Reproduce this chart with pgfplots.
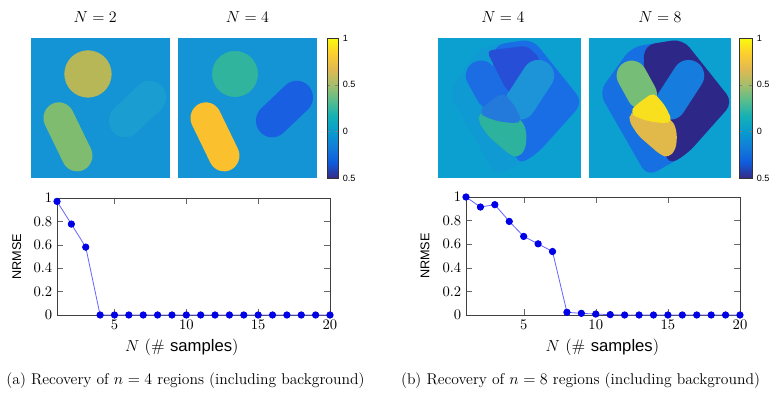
\documentclass[border=0pt]{standalone}
\usepackage{pgfplots}
\pgfplotsset{compat=1.18}
\usepackage{fontspec}
\setsansfont{Liberation Sans}
\definecolor{bgL}{RGB}{20,148,212}
\definecolor{NtwoCirc}{RGB}{183,183,88}
\definecolor{NtwoOval}{RGB}{128,188,112}
\definecolor{NtwoFaint}{RGB}{26,157,208}
\definecolor{NfourCirc}{RGB}{48,180,158}
\definecolor{NfourCaps}{RGB}{250,192,45}
\definecolor{NfourBlue}{RGB}{25,95,225}
\definecolor{bgR}{RGB}{12,160,208}
\definecolor{RfBlob}{RGB}{15,154,211}
\definecolor{RfWing}{RGB}{25,110,230}
\definecolor{RfTop}{RGB}{38,78,215}
\definecolor{RfCaps}{RGB}{28,148,215}
\definecolor{RfLeft}{RGB}{28,108,228}
\definecolor{RfCenter}{RGB}{35,122,218}
\definecolor{RfGreen}{RGB}{45,178,158}
\definecolor{ReBlob}{RGB}{22,112,225}
\definecolor{ReNavy}{RGB}{45,40,135}
\definecolor{ReCaps}{RGB}{22,125,222}
\definecolor{ReGreen}{RGB}{118,190,120}
\definecolor{ReGold}{RGB}{225,185,75}
\definecolor{ReYellow}{RGB}{248,224,30}
\definecolor{markblue}{RGB}{0,0,230}
\definecolor{lineblue}{RGB}{100,100,255}
\pgfplotsset{
  colormap={parula}{rgb255=(53,42,135) rgb255=(15,92,221) rgb255=(18,125,216) rgb255=(7,156,207) rgb255=(21,177,180) rgb255=(89,189,140) rgb255=(165,190,107) rgb255=(225,185,82) rgb255=(252,206,46) rgb255=(249,251,14)},
  img/.style={hide axis, scale only axis, anchor=south west, xmin=0, xmax=100, ymin=0, ymax=100, height=105pt,
    title style={at={(0.5,1)}, anchor=center, yshift=9.75pt, font=\fontsize{12}{14}\selectfont}},
  cbar/.style 2 args={colorbar, colormap name=parula, point meta min=-0.5, point meta max=1,
    colorbar style={at={(parent axis.north east)}, anchor=north west, xshift=#1, width=#2, height=105pt, scale only axis,
      ytick={-0.5,0,0.5,1}, yticklabels={0.5,0,0.5,1},
      yticklabel style={font=\sffamily\fontsize{6.8}{8}\selectfont},
      major tick length=2pt, axis line style={black!80}}},
  nrm/.style={scale only axis, anchor=south west, xmin=1, xmax=20, ymin=0, ymax=1,
    xtick={5,10,15,20}, ytick={0,0.2,0.4,0.6,0.8,1},
    tick label style={font=\fontsize{10.5}{12}\selectfont},
    ylabel={\sffamily NRMSE},
    ylabel style={anchor=center, font=\fontsize{9.5}{11}\selectfont},
    xlabel={$N$ (\#~\textsf{samples})},
    xlabel style={anchor=center, yshift=-24pt, font=\fontsize{12.5}{14}\selectfont},
    clip=false, axis line style={black!75}, tick style={black!60}},
  nline/.style={color=lineblue, line width=0.6pt, mark=*, mark size=2.4pt, mark options={fill=markblue, draw=markblue}},
}
\begin{document}
\begin{tikzpicture}
\useasboundingbox (0,0) rectangle (582pt,296.25pt);

% ---------- left panel, N=2 ----------
\begin{axis}[img, at={(23.25pt,162.75pt)}, width=104.25pt, title={$N=2$}, title style={xshift=-4pt}]
\addplot[fill=bgL, draw=none] coordinates {(0,0) (100,0) (100,100) (0,100)} -- cycle;
\addplot[fill=NtwoFaint, draw=none, rounded corners=12.5pt] coordinates {(84.6,40.55) (102.0,57.0) (86.0,74.4) (51.2,41.5) (67.2,24.1) (84.6,40.55)};
\addplot[fill=NtwoOval, draw=none, rounded corners=11.75pt] coordinates {(36.5,34.4) (48.0,10.9) (28.2,0.9) (5.2,47.9) (25.0,57.9) (36.5,34.4)};
\addplot[only marks, mark=*, mark size=17.5pt, color=NtwoCirc] coordinates {(41,74.3)};
\end{axis}

% ---------- left panel, N=4 ----------
\begin{axis}[img, at={(133.5pt,162.75pt)}, width=104.25pt, title={$N=4$}, cbar={-1pt}{8.25pt}]
\addplot[fill=bgL, draw=none] coordinates {(0,0) (100,0) (100,100) (0,100)} -- cycle;
\addplot[fill=NfourBlue, draw=none, rounded corners=12.5pt] coordinates {(84.6,40.55) (102.0,57.0) (86.0,74.4) (51.2,41.5) (67.2,24.1) (84.6,40.55)};
\addplot[fill=NfourCaps, draw=none, rounded corners=11.75pt] coordinates {(36.5,34.4) (48.0,10.9) (28.2,0.9) (5.2,47.9) (25.0,57.9) (36.5,34.4)};
\addplot[only marks, mark=*, mark size=17pt, color=NfourCirc] coordinates {(41,74.3)};
\end{axis}

% ---------- right panel, N=4 ----------
\begin{axis}[img, at={(328.5pt,162.75pt)}, width=107.25pt, title={$N=4$}, title style={xshift=-5pt}]
\addplot[fill=bgR, draw=none] coordinates {(0,0) (100,0) (100,100) (0,100)} -- cycle;
\addplot[fill=RfBlob, draw=none, rounded corners=8pt] coordinates {(18.4,77.35) (29.8,93.5) (66,99.3) (101.5,54) (69,17) (41,1) (7,61.2) (18.4,77.35)};
\addplot[fill=RfWing, draw=none, rounded corners=8pt] coordinates {(52.4,97.1) (66,99.3) (101.5,54) (69,17) (55,9) (52.5,38.6) (38.4,67.1) (38.85,94.95) (52.4,97.1)};
\addplot[fill=RfTop, draw=none, rounded corners=4pt] coordinates {(49,92.8) (62,94.5) (72,85) (57.9,55.2) (47.4,63.6) (34,91) (49,92.8)};
\addplot[fill=RfCaps, draw=none, rounded corners=11.75pt] coordinates {(72.95,56.9) (85.4,76.4) (66.8,88.6) (41.9,49.6) (60.5,37.4) (72.95,56.9)};
\addplot[fill=RfLeft, draw=none, rounded corners=11.25pt] coordinates {(42.95,71.65) (51.6,55.7) (33.0,45.5) (15.7,77.4) (34.3,87.6) (42.95,71.65)};
\addplot[fill=RfGreen, draw=none, rounded corners=4pt] coordinates {(36.5,47.5) (44.2,48.1) (59.5,40.5) (62.1,31.4) (61.2,20.7) (56.0,14.3) (50.1,16.7) (34.8,30.2) (28.2,40.5) (28.9,46.9) (36.5,47.5)};
\addplot[fill=RfCenter, draw=none, rounded corners=4pt] coordinates {(39,56.5) (45.4,61.2) (53.6,51.7) (58.8,40.5) (53.6,39.0) (41.9,40.5) (32.5,43.8) (28.9,46.9) (32.5,51.7) (39,56.5)};
\end{axis}

% ---------- right panel, N=8 ----------
\begin{axis}[img, at={(441.75pt,162.75pt)}, width=106.5pt, title={$N=8$}, cbar={-2.5pt}{9.75pt}]
\addplot[fill=bgR, draw=none] coordinates {(0,0) (100,0) (100,100) (0,100)} -- cycle;
\addplot[fill=ReBlob, draw=none, rounded corners=8pt] coordinates {(18.4,77.35) (29.8,93.5) (66,99.3) (101.5,54) (69,17) (41,1) (7,61.2) (18.4,77.35)};
\addplot[fill=ReNavy, draw=none, rounded corners=8pt] coordinates {(52.4,97.1) (66,99.3) (101.5,54) (69,17) (55,9) (52.5,38.6) (38.4,67.1) (38.85,94.95) (52.4,97.1)};
\addplot[fill=ReCaps, draw=none, rounded corners=11.75pt] coordinates {(72.95,56.9) (85.4,76.4) (66.8,88.6) (41.9,49.6) (60.5,37.4) (72.95,56.9)};
\addplot[fill=ReGreen, draw=none, rounded corners=11.25pt] coordinates {(42.95,71.65) (51.6,55.7) (33.0,45.5) (15.7,77.4) (34.3,87.6) (42.95,71.65)};
\addplot[fill=ReGold, draw=none, rounded corners=4pt] coordinates {(36.5,47.5) (44.2,48.1) (59.5,40.5) (62.1,31.4) (61.2,20.7) (56.0,14.3) (50.1,16.7) (34.8,30.2) (28.2,40.5) (28.9,46.9) (36.5,47.5)};
\addplot[fill=ReYellow, draw=none, rounded corners=4pt] coordinates {(39,56.5) (45.4,61.2) (53.6,51.7) (58.8,40.5) (53.6,39.0) (41.9,40.5) (32.5,43.8) (28.9,46.9) (32.5,51.7) (39,56.5)};
\end{axis}

% ---------- NRMSE plots ----------
\begin{axis}[nrm, at={(42.75pt,60pt)}, width=204.75pt, height=87.75pt,
  xlabel style={at={(axis description cs:0.457,0)}},
  ylabel style={at={(axis description cs:-0.147,0.5)}}]
\addplot[nline] coordinates {(1,0.971) (2,0.777) (3,0.58) (4,0) (5,0) (6,0) (7,0) (8,0) (9,0) (10,0) (11,0) (12,0) (13,0) (14,0) (15,0) (16,0) (17,0) (18,0) (19,0) (20,0)};
\end{axis}

\begin{axis}[nrm, at={(349.5pt,60pt)}, width=205.5pt, height=88.5pt,
  xlabel style={at={(axis description cs:0.498,0)}},
  ylabel style={at={(axis description cs:-0.15,0.5)}}]
\addplot[nline] coordinates {(1,1.0) (2,0.915) (3,0.935) (4,0.793) (5,0.666) (6,0.603) (7,0.538) (8,0.023) (9,0.014) (10,0.008) (11,0.003) (12,0) (13,0) (14,0) (15,0) (16,0) (17,0) (18,0) (19,0) (20,0)};
\end{axis}

\node[font=\fontsize{11.7}{13}\selectfont] at (139.1pt,10.5pt) {(a) Recovery of $n=4$ regions (including background)};
\node[font=\fontsize{11.7}{13}\selectfont] at (435.4pt,10.5pt) {(b) Recovery of $n=8$ regions (including background)};
\end{tikzpicture}
\end{document}
